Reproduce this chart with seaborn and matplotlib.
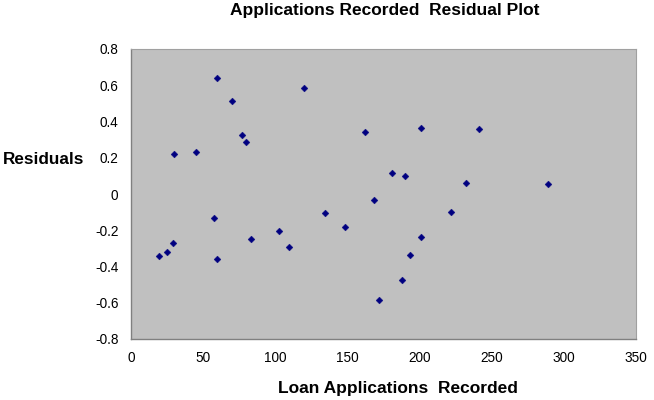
import numpy as np
import pandas as pd
import matplotlib
matplotlib.use("Agg")
import matplotlib.pyplot as plt
import seaborn as sns

# residuals
applications = [59.9, 69.8, 119.7, 76.9, 79.7, 30.0, 45.2, 162.4, 168.4, 57.8,
                134.6, 148.4, 102.9, 82.9, 109.8, 29.1, 25.0, 19.2, 59.9, 172.0,
                200.8, 240.9, 180.7, 189.7, 232.5, 288.7, 221.7, 200.8, 193.2, 187.8]
residuals = [0.641, 0.514, 0.586, 0.326, 0.287, 0.219, 0.230, 0.343, -0.033, -0.134,
             -0.105, -0.180, -0.203, -0.250, -0.293, -0.271, -0.319, -0.344, -0.361, -0.585,
             0.365, 0.359, 0.114, 0.101, 0.059, 0.054, -0.101, -0.236, -0.337, -0.473]
x_ticks = [0, 50, 100, 150, 200, 250, 300, 350]
y_ticks = [-0.8, -0.6, -0.4, -0.2, 0, 0.2, 0.4, 0.6, 0.8]
y_tick_labels = ["-0.8", "-0.6", "-0.4", "-0.2", "0", "0.2", "0.4", "0.6", "0.8"]

df = pd.DataFrame({"Loan Applications Recorded": applications, "Residuals": residuals})

sns.set_style("white")
plt.rcParams["font.family"] = ["Liberation Sans", "DejaVu Sans"]
plt.rcParams["text.color"] = "black"
plt.rcParams["xtick.labelcolor"] = "black"
plt.rcParams["ytick.labelcolor"] = "black"

fig = plt.figure(figsize=(6.54, 4.0), dpi=100)
ax = fig.add_axes([0.2003, 0.1525, 0.7722, 0.725])
ax.set_facecolor("#C0C0C0")

sns.scatterplot(data=df, x="Loan Applications Recorded", y="Residuals", ax=ax,
                marker="D", s=12, color="#000080", edgecolor="#000080", linewidth=0.3)

ax.set_xlim(0, 350)
ax.set_ylim(-0.8, 0.8)
ax.set_xticks(x_ticks)
ax.set_xticklabels([str(t) for t in x_ticks], fontsize=9.8)
ax.set_yticks(y_ticks)
ax.set_yticklabels(y_tick_labels, fontsize=9.8)
ax.tick_params(axis="both", direction="out", length=4, width=0.8, color="#808080",
               labelcolor="black", pad=5)

for side in ["top", "right"]:
    ax.spines[side].set_color("#A0A0A0")
    ax.spines[side].set_linewidth(0.8)
for side in ["left", "bottom"]:
    ax.spines[side].set_color("#808080")
    ax.spines[side].set_linewidth(1.0)

ax.set_xlabel("")
ax.set_ylabel("")
fig.text(0.608, 0.03, "Loan Applications  Recorded", fontsize=12.5, fontweight="bold",
         ha="center", va="center", color="black")
fig.text(0.005, 0.6, "Residuals", fontsize=12.3, fontweight="bold", ha="left", va="center",
         color="black")
fig.text(0.588, 0.973, "Applications Recorded  Residual Plot", fontsize=12.5,
         fontweight="bold", ha="center", va="center", color="black")

fig.savefig("out.png", dpi=100)
